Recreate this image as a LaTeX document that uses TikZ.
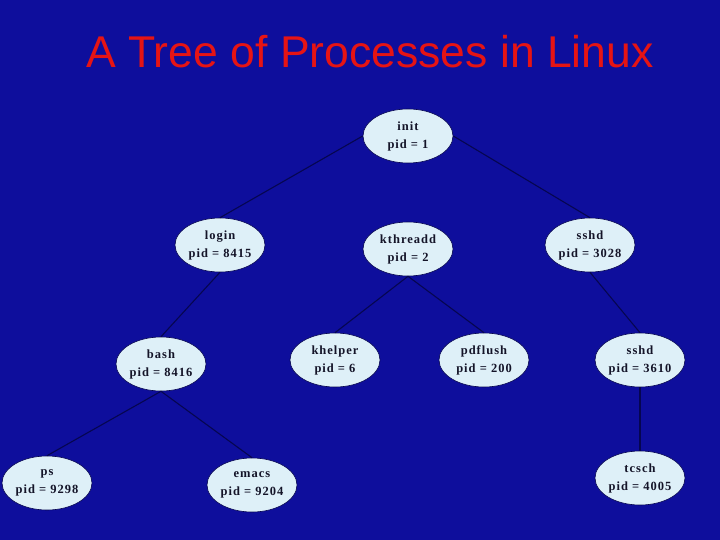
\documentclass[tikz,border=0pt]{standalone}
\usepackage{fontspec}
\usetikzlibrary{shapes.geometric}
\newfontfamily\titlefont{Liberation Sans}
\newfontfamily\procfont[LetterSpace=8]{Liberation Serif}
\definecolor{bgblue}{RGB}{14,14,156}
\definecolor{titlered}{RGB}{230,20,20}
\definecolor{procfill}{RGB}{222,240,248}
\definecolor{edgecol}{RGB}{6,6,80}
\definecolor{proctext}{RGB}{20,20,40}
\tikzset{
  proc/.style={ellipse, draw=edgecol, line width=0.6pt, fill=procfill,
    minimum width=90pt, minimum height=54pt, inner sep=0pt},
  ptext/.style={align=center, font=\procfont\bfseries\fontsize{12.5}{18}\selectfont,
    text=proctext, inner sep=0pt},
  link/.style={draw=edgecol, line width=1.1pt}
}
\begin{document}
\begin{tikzpicture}[x=1pt,y=-1pt]
\fill[bgblue] (0,0) rectangle (720,540);
\useasboundingbox (0,0) rectangle (720,540);
\node[font=\titlefont\fontsize{44.5}{46}\selectfont, text=titlered, anchor=base] (title) at (370,68) {A Tree of Processes in Linux};

\node[proc, label={[ptext]center:{init\\pid = 1}}] (init) at (408,136) {};
\node[proc, label={[ptext]center:{login\\pid = 8415}}] (login) at (220,245) {};
\node[proc, label={[ptext]center:{kthreadd\\pid = 2}}] (kthreadd) at (408,249) {};
\node[proc, label={[ptext]center:{sshd\\pid = 3028}}] (sshdA) at (590,245) {};
\node[proc, label={[ptext]center:{bash\\pid = 8416}}] (bash) at (161,364) {};
\node[proc, label={[ptext]center:{khelper\\pid = 6}}] (khelper) at (335,360) {};
\node[proc, label={[ptext]center:{pdflush\\pid = 200}}] (pdflush) at (484,360) {};
\node[proc, label={[ptext]center:{sshd\\pid = 3610}}] (sshdB) at (640,360) {};
\node[proc, label={[ptext]center:{ps\\pid = 9298}}] (ps) at (47,483) {};
\node[proc, label={[ptext]center:{emacs\\pid = 9204}}] (emacs) at (252,485) {};
\node[proc, label={[ptext]center:{tcsch\\pid = 4005}}] (tcsch) at (640,478) {};

\path[link] (init.west) -- (login.north);
\path[link] (init.east) -- (sshdA.north);
\path[link] (login.south) -- (bash.north);
\path[link] (kthreadd.south) -- (khelper.north);
\path[link] (kthreadd.south) -- (pdflush.north);
\path[link] (sshdA.south) -- (sshdB.north);
\path[link] (sshdB.south) -- (tcsch.north);
\path[link] (bash.south) -- (ps.north);
\path[link] (bash.south) -- (emacs.north);
\end{tikzpicture}
\end{document}
